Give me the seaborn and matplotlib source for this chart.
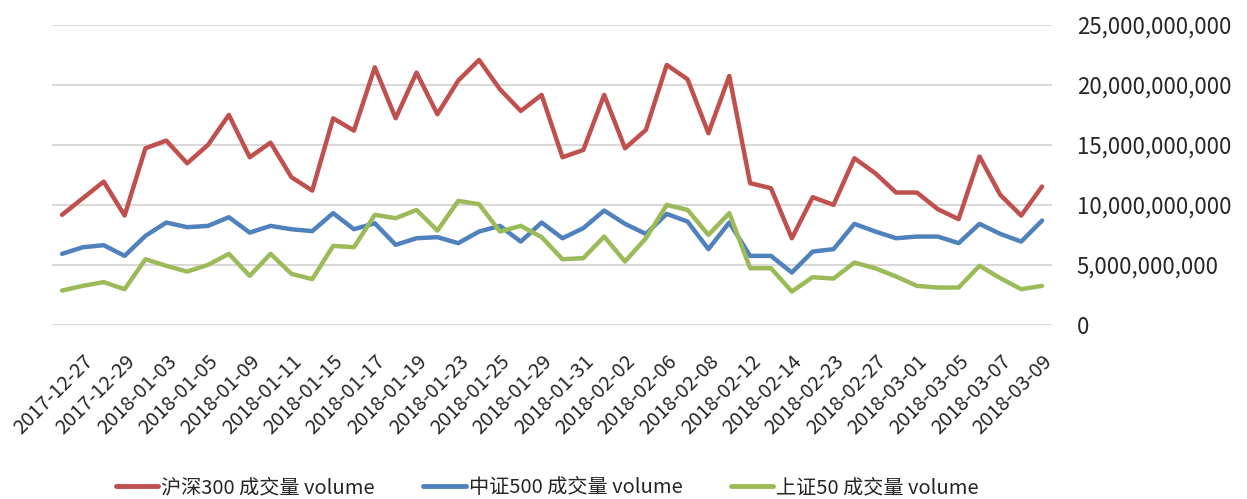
import numpy as np
import pandas as pd
import matplotlib
matplotlib.use("Agg")
import matplotlib.pyplot as plt
import matplotlib.ticker as mticker
import seaborn as sns

# trading days shown on the chart
dates = [
    "2017-12-26", "2017-12-27", "2017-12-28", "2017-12-29", "2018-01-02", "2018-01-03",
    "2018-01-04", "2018-01-05", "2018-01-08", "2018-01-09", "2018-01-10", "2018-01-11",
    "2018-01-12", "2018-01-15", "2018-01-16", "2018-01-17", "2018-01-18", "2018-01-19",
    "2018-01-22", "2018-01-23", "2018-01-24", "2018-01-25", "2018-01-26", "2018-01-29",
    "2018-01-30", "2018-01-31", "2018-02-01", "2018-02-02", "2018-02-05", "2018-02-06",
    "2018-02-07", "2018-02-08", "2018-02-09", "2018-02-12", "2018-02-13", "2018-02-14",
    "2018-02-22", "2018-02-23", "2018-02-26", "2018-02-27", "2018-02-28", "2018-03-01",
    "2018-03-02", "2018-03-05", "2018-03-06", "2018-03-07", "2018-03-08", "2018-03-09",
]

# volumes in billions
hs300 = [9.17, 10.56, 11.94, 9.11, 14.72, 15.36, 13.47, 15.0, 17.5, 13.97, 15.19, 12.31,
         11.19, 17.22, 16.19, 21.47, 17.22, 21.03, 17.56, 20.36, 22.08, 19.64, 17.83, 19.17,
         13.97, 14.58, 19.17, 14.72, 16.25, 21.67, 20.47, 15.97, 20.75, 11.81, 11.39, 7.22,
         10.64, 10.0, 13.89, 12.64, 11.03, 11.03, 9.64, 8.81, 14.03, 10.83, 9.11, 11.53]
zz500 = [5.92, 6.47, 6.64, 5.75, 7.42, 8.53, 8.14, 8.25, 8.97, 7.69, 8.25, 7.97,
         7.81, 9.31, 7.97, 8.47, 6.67, 7.22, 7.31, 6.81, 7.78, 8.25, 6.94, 8.53,
         7.22, 8.06, 9.53, 8.42, 7.58, 9.25, 8.61, 6.31, 8.53, 5.75, 5.75, 4.36,
         6.11, 6.31, 8.42, 7.78, 7.22, 7.36, 7.36, 6.81, 8.42, 7.58, 6.94, 8.69]
sz50 = [2.86, 3.25, 3.56, 2.97, 5.47, 4.92, 4.44, 5.0, 5.92, 4.08, 5.92, 4.25,
        3.81, 6.58, 6.47, 9.17, 8.89, 9.58, 7.86, 10.33, 10.06, 7.78, 8.25, 7.31,
        5.47, 5.56, 7.36, 5.28, 7.22, 10.0, 9.58, 7.5, 9.31, 4.72, 4.72, 2.78,
        3.97, 3.86, 5.19, 4.72, 4.03, 3.25, 3.11, 3.11, 4.92, 3.89, 2.97, 3.25]

series_names = ["沪深300 成交量 volume", "中证500 成交量 volume", "上证50 成交量 volume"]
colors = ["#C0504D", "#4F81BD", "#9BBB59"]

rows = []
for name, vals in zip(series_names, [hs300, zz500, sz50]):
    for i, v in enumerate(vals):
        rows.append({"idx": i, "volume": v * 1e9, "series": name})
df = pd.DataFrame(rows)

sns.set_theme(style="white")
plt.rcParams["font.family"] = ["Noto Sans CJK SC", "DejaVu Sans"]

fig = plt.figure(figsize=(12.47, 4.99), dpi=100)
ax = fig.add_axes([0.0414, 0.349, 0.8026, 0.601])

sns.lineplot(data=df, x="idx", y="volume", hue="series", hue_order=series_names,
             palette=colors, linewidth=3.2, ax=ax, legend=False)

ax.set_xlim(-0.5, len(dates) - 0.5)
ax.set_ylim(0, 25e9)
ax.yaxis.set_major_locator(mticker.MultipleLocator(5e9))
ax.yaxis.set_major_formatter(mticker.FuncFormatter(lambda v, p: f"{v:,.0f}"))
ax.yaxis.tick_right()
ax.grid(axis="y", color="#d9d9d9", linewidth=1.5)
ax.set_axisbelow(True)
for s in ax.spines.values():
    s.set_visible(False)

tick_pos = list(range(1, len(dates), 2))
ax.set_xticks(tick_pos)
ax.set_xticklabels([dates[i] for i in tick_pos], rotation=45, ha="right",
                   rotation_mode="anchor", fontsize=14.5)
ax.tick_params(axis="y", labelsize=16, length=0, pad=17.5)
ax.tick_params(axis="x", length=0, pad=19)
ax.set_xlabel("")
ax.set_ylabel("")

handles = [plt.Line2D([0], [0], color=c, linewidth=3.5) for c in colors]
fig.legend(handles, series_names, loc="lower center", bbox_to_anchor=(0.439, -0.035),
           ncol=3, frameon=False, fontsize=14.5, handlelength=2.1, handletextpad=0.15,
           columnspacing=2.4)

fig.savefig("out.png", dpi=100)
